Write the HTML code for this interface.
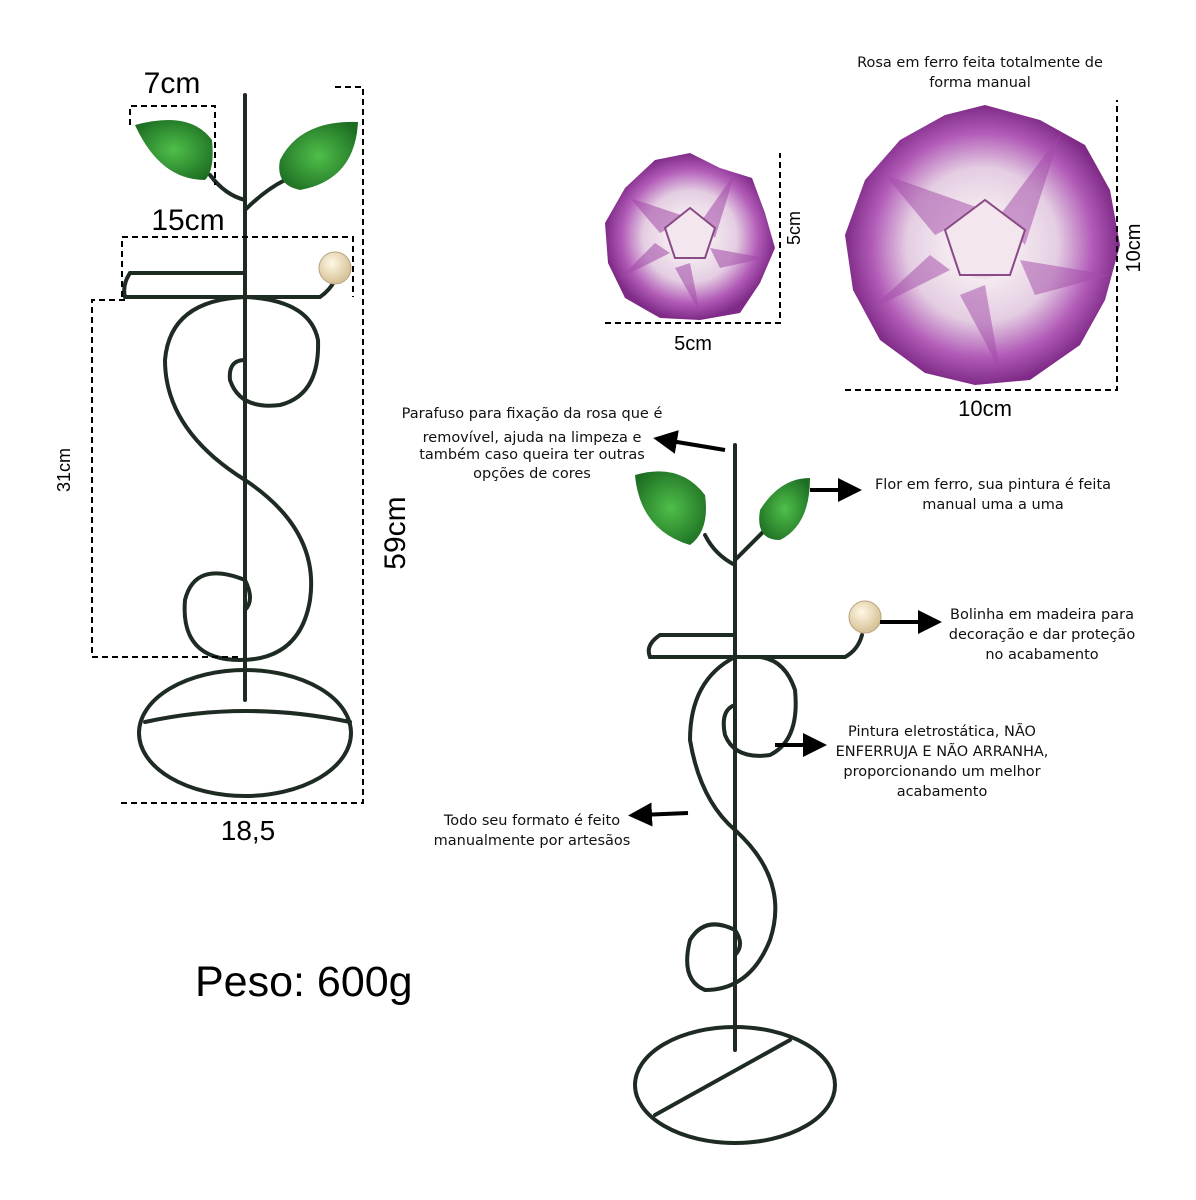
<!DOCTYPE html>
<html><head><meta charset="utf-8"><style>
html,body{margin:0;padding:0;background:#fff;}
svg{display:block;font-family:"Liberation Sans",sans-serif;}
.dim{stroke:#000;stroke-width:2;stroke-dasharray:6 4;fill:none}
.rod{stroke:#1e2b22;stroke-width:4;fill:none;stroke-linecap:round}
.t{font-family:"DejaVu Sans","Liberation Sans",sans-serif;font-size:14.5px;fill:#111}
</style></head><body>
<svg width="1196" height="1200" viewBox="0 0 1196 1200">
<defs>
<radialGradient id="rose" cx="50%" cy="50%" r="50%">
<stop offset="0" stop-color="#8a3f86"/><stop offset="0.25" stop-color="#f4eaf0"/>
<stop offset="0.55" stop-color="#e4cde2"/><stop offset="0.8" stop-color="#b25cb8"/><stop offset="1" stop-color="#7e2a86"/>
</radialGradient>
<radialGradient id="leaf" cx="50%" cy="50%" r="60%"><stop offset="0" stop-color="#4fbf4a"/><stop offset="1" stop-color="#1d6e22"/></radialGradient>
<radialGradient id="ball" cx="40%" cy="35%" r="60%"><stop offset="0" stop-color="#fff8e6"/><stop offset="1" stop-color="#d8c49a"/></radialGradient>
<marker id="ar" markerWidth="6" markerHeight="6" refX="3" refY="3" orient="auto"><path d="M0,0 L6,3 L0,6 Z" fill="#000"/></marker>
</defs>

<!-- LEFT STAND -->
<path class="rod" d="M245,95 V700"/>
<path class="rod" d="M245,273 H130 Q122,285 125,297 H320 Q330,290 335,280"/>
<path class="rod" d="M245,200 Q225,195 210,175 M245,210 Q265,190 285,180"/>
<path class="rod" d="M245,297 Q170,300 165,360 Q165,430 245,480 Q320,530 310,600 Q300,660 240,660 Q180,660 185,600 Q195,560 245,580 Q255,600 245,610"/>
<path class="rod" d="M245,360 Q228,360 230,380 Q240,410 280,405 Q320,395 318,340 Q310,300 245,297"/>
<ellipse class="rod" cx="245" cy="733" rx="106" ry="63"/>
<path class="rod" d="M145,722 Q245,700 350,722"/>
<path d="M135,125 Q190,110 212,140 Q215,170 205,180 Q160,180 135,125Z" fill="url(#leaf)"/>
<path d="M280,160 Q300,120 358,122 Q355,180 300,190 Q275,185 280,160Z" fill="url(#leaf)"/>
<circle cx="335" cy="268" r="16" fill="url(#ball)" stroke="#b9a27a"/>

<!-- left dims -->
<path class="dim" d="M130,125 V106 H215 V185"/>
<text x="172" y="93" font-size="30" text-anchor="middle">7cm</text>
<path class="dim" d="M122,297 V237 H353 V297"/>
<text x="188" y="230" font-size="30" text-anchor="middle">15cm</text>
<path class="dim" d="M125,300 H92 V657 H240"/>
<text x="70" y="470" font-size="18" transform="rotate(-90 70 470)" text-anchor="middle">31cm</text>
<path class="dim" d="M335,87 H363 V803 H120"/>
<text x="405" y="533" font-size="30" transform="rotate(-90 405 533)" text-anchor="middle">59cm</text>
<text x="248" y="840" font-size="28" text-anchor="middle">18,5</text>
<text x="195" y="996" font-size="43">Peso: 600g</text>

<!-- ROSES -->
<g transform="translate(690,238)">
<path d="M0,-85 L30,-70 L62,-60 L75,-25 L85,10 L70,45 L50,75 L10,82 L-30,80 L-65,60 L-82,25 L-85,-15 L-65,-50 L-35,-78Z" fill="url(#rose)"/>
<g fill="#a24aa8" opacity="0.55">
<path d="M0,-20 L-60,-40 L-30,-5Z"/><path d="M10,-15 L45,-65 L25,0Z"/><path d="M20,10 L75,20 L30,30Z"/><path d="M0,25 L10,75 L-15,30Z"/><path d="M-20,15 L-70,40 L-35,5Z"/>
</g>
<path d="M-25,-10 L0,-30 L25,-10 L15,20 L-15,20Z" fill="#f3e6ee" stroke="#8a4a86" stroke-width="2"/>
</g>
<g transform="translate(985,245)">
<path d="M0,-140 L55,-125 L100,-100 L125,-55 L135,0 L120,55 L95,100 L45,135 L-10,140 L-60,128 L-105,95 L-132,45 L-140,-10 L-120,-65 L-85,-105 L-40,-130Z" fill="url(#rose)"/>
<g fill="#a24aa8" opacity="0.5">
<path d="M0,-35 L-100,-70 L-50,-10Z"/><path d="M15,-30 L75,-110 L40,0Z"/><path d="M35,15 L125,30 L50,50Z"/><path d="M0,40 L15,125 L-25,50Z"/><path d="M-35,25 L-115,65 L-55,10Z"/>
</g>
<path d="M-40,-15 L0,-45 L40,-15 L25,30 L-25,30Z" fill="#f3e6ee" stroke="#8a4a86" stroke-width="2"/>
</g>
<text class="t" x="980" y="67" text-anchor="middle">Rosa em ferro feita totalmente de</text>
<text class="t" x="980" y="87" text-anchor="middle">forma manual</text>
<path class="dim" d="M605,323 H780 V153"/>
<text x="800" y="228" font-size="18" transform="rotate(-90 800 228)" text-anchor="middle">5cm</text>
<text x="693" y="350" font-size="20" text-anchor="middle">5cm</text>
<path class="dim" d="M845,390 H1117 V100"/>
<text x="1140" y="248" font-size="20" transform="rotate(-90 1140 248)" text-anchor="middle">10cm</text>
<text x="985" y="416" font-size="22" text-anchor="middle">10cm</text>

<!-- RIGHT STAND -->
<path class="rod" d="M735,445 V1050"/>
<path class="rod" d="M735,565 Q715,555 705,535 M735,560 Q755,540 765,530"/>
<path class="rod" d="M735,635 H660 Q645,645 650,657 H845 Q858,650 862,635"/>
<path class="rod" d="M735,657 Q690,680 690,740 Q700,800 735,830 Q790,880 770,940 Q750,990 705,990 Q680,980 690,940 Q705,915 735,930 Q745,945 735,955"/>
<path class="rod" d="M735,705 Q720,710 725,735 Q735,760 770,755 Q800,740 795,690 Q785,660 760,657"/>
<ellipse class="rod" cx="735" cy="1085" rx="100" ry="58"/>
<path class="rod" d="M655,1115 L790,1040"/>
<path d="M635,475 Q680,462 705,495 Q710,530 690,545 Q640,530 635,475Z" fill="url(#leaf)"/>
<path d="M760,510 Q780,478 810,478 Q810,525 780,540 Q755,540 760,510Z" fill="url(#leaf)"/>
<circle cx="865" cy="617" r="16" fill="url(#ball)" stroke="#b9a27a"/>

<!-- callouts -->
<g stroke="#000" stroke-width="4" marker-end="url(#ar)">
<line x1="725" y1="450" x2="665" y2="440"/>
<line x1="810" y1="490" x2="850" y2="490"/>
<line x1="880" y1="622" x2="930" y2="622"/>
<line x1="775" y1="745" x2="815" y2="745"/>
<line x1="688" y1="813" x2="640" y2="815"/>
</g>
<g class="t" text-anchor="middle">
<text x="532" y="418">Parafuso para fixação da rosa que é</text>
<text x="532" y="442">removível, ajuda na limpeza e</text>
<text x="532" y="459">também caso queira ter outras</text>
<text x="532" y="478">opções de cores</text>
<text x="993" y="489">Flor em ferro, sua pintura é feita</text>
<text x="993" y="509">manual uma a uma</text>
<text x="1042" y="619">Bolinha em madeira para</text>
<text x="1042" y="639">decoração e dar proteção</text>
<text x="1042" y="659">no acabamento</text>
<text x="942" y="736">Pintura eletrostática, NÃO</text>
<text x="942" y="756">ENFERRUJA E NÃO ARRANHA,</text>
<text x="942" y="776">proporcionando um melhor</text>
<text x="942" y="796">acabamento</text>
<text x="532" y="825">Todo seu formato é feito</text>
<text x="532" y="845">manualmente por artesãos</text>
</g>
</svg>
</body></html>
